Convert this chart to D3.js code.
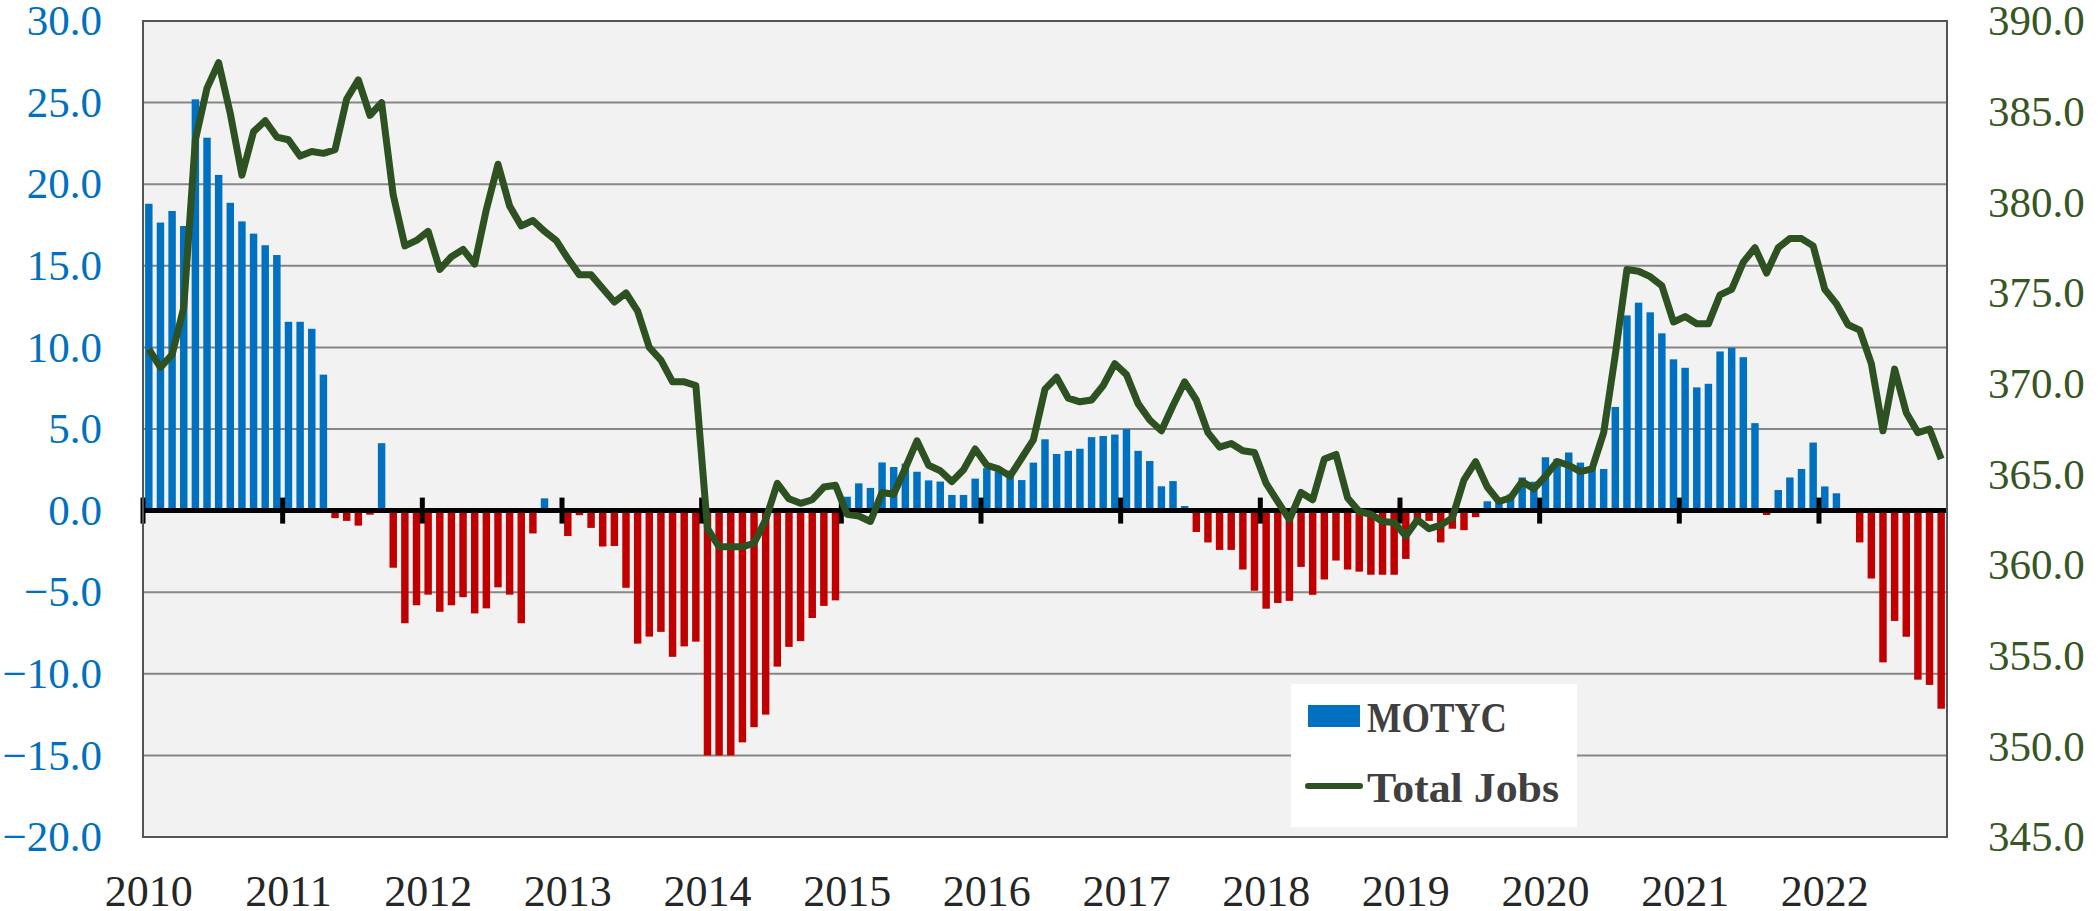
<!DOCTYPE html>
<html>
<head>
<meta charset="utf-8">
<script src="https://cdn.jsdelivr.net/npm/d3@7"></script>
<style>
  body { margin: 0; background: #fff; }
  svg { display: block; }
</style>
</head>
<body>
<svg id="chart"></svg>
<script>
// year labels on the category axis
const yearLabels = ["2010", "2011", "2012", "2013", "2014", "2015", "2016",
  "2017", "2018", "2019", "2020", "2021", "2022"];

// monthly categories, Jan 2010 .. Nov 2022
const months = d3.timeMonth.range(new Date(2010, 0, 1), new Date(2022, 11, 1));

// MOTYC, bars (left axis)
const motyc = [
  18.8, 17.65, 18.36, 17.44, 25.2, 22.85, 20.57, 18.86, 17.72, 16.97, 16.26, 15.66,
  11.57, 11.57, 11.14, 8.33, -0.46, -0.63, -0.92, -0.25, 4.13, -3.5, -6.9, -5.8,
  -5.15, -6.2, -5.8, -5.3, -6.3, -5.99, -4.7, -5.15, -6.9, -1.4, 0.75, 0,
  -1.56, -0.28, -1.06, -2.2, -2.17, -4.73, -8.15, -7.72, -7.43, -8.96, -8.32, -8.03,
  -15.0, -15.0, -15.0, -14.2, -13.27, -12.5, -9.56, -8.35, -8.0, -6.58, -5.84, -5.5,
  0.85, 1.67, 1.39, 2.95, 2.67, 2.88, 2.38, 1.85, 1.78, 0.96, 0.96, 1.96,
  2.6, 2.39, 2.45, 1.87, 2.94, 4.37, 3.47, 3.66, 3.79, 4.5, 4.57, 4.66,
  4.99, 3.66, 3.04, 1.49, 1.81, 0.28, -1.31, -1.95, -2.41, -2.41, -3.61, -4.91,
  -6.01, -5.66, -5.53, -3.45, -5.16, -4.22, -3.06, -3.61, -3.74, -3.93, -3.93, -3.93,
  -2.96, -0.7, -0.63, -1.95, -1.11, -1.2, -0.4, 0.57, 0.6, 0.99, 2.03, 1.77,
  3.27, 3.17, 3.56, 2.94, 2.62, 2.55, 6.35, 11.96, 12.74, 12.15, 10.86, 9.27,
  8.75, 7.55, 7.77, 9.75, 9.98, 9.4, 5.36, -0.27, 1.26, 2.03, 2.55, 4.17,
  1.48, 1.06, 0, -1.95, -4.16, -9.3, -6.76, -7.73, -10.36, -10.68, -12.14
];

// Total Jobs, line (right axis)
const totalJobs = [
  371.9, 370.9, 371.6, 374.2, 383.45, 386.3, 387.7, 384.9, 381.5, 383.9, 384.5, 383.6,
  383.45, 382.55, 382.8, 382.7, 382.9, 385.7, 386.75, 384.8, 385.5, 380.4, 377.6, 377.9,
  378.4, 376.3, 377.0, 377.4, 376.6, 379.6, 382.1, 379.8, 378.7, 379.0, 378.4, 377.9,
  376.9, 376.0, 376.0, 375.25, 374.5, 375.0, 374.0, 372.0, 371.3, 370.1, 370.1, 369.9,
  362.0, 361.0, 361.0, 361.0, 361.2, 362.5, 364.5, 363.65, 363.4, 363.6, 364.3, 364.4,
  362.8, 362.7, 362.4, 364.0, 363.9, 365.35, 366.85, 365.5, 365.2, 364.6, 365.25, 366.4,
  365.5, 365.3, 364.9, 365.9, 366.9, 369.7, 370.35, 369.2, 369.0, 369.1, 369.9, 371.1,
  370.5, 368.9, 368.0, 367.4, 368.8, 370.1, 369.1, 367.3, 366.5, 366.7, 366.3, 366.2,
  364.5, 363.5, 362.5, 364.0, 363.6, 365.85, 366.1, 363.7, 362.95, 362.8, 362.4, 362.35,
  361.6, 362.5, 362.0, 362.2, 362.6, 364.7, 365.7, 364.3, 363.5, 363.7, 364.6, 364.2,
  364.9, 365.7, 365.5, 365.15, 365.3, 367.3, 371.6, 376.3, 376.2, 375.9, 375.4, 373.4,
  373.7, 373.3, 373.3, 374.9, 375.2, 376.7, 377.5, 376.1, 377.5, 378.0, 378.0, 377.6,
  375.2, 374.4, 373.25, 372.95, 371.1, 367.4, 370.8, 368.4, 367.3, 367.5, 365.85
];

const leftTicks = [-20, -15, -10, -5, 0, 5, 10, 15, 20, 25, 30];
const rightTicks = [345, 350, 355, 360, 365, 370, 375, 380, 385, 390];

const W = 2098, H = 911;
const plot = { left: 143, right: 1947, top: 21, bottom: 837 };
const serif = "'Liberation Serif', 'Times New Roman', serif";
const fmtKey = d3.timeFormat("%Y-%m");
const keys = months.map(fmtKey);

const data = keys.map((k, i) => ({ key: k, date: months[i], motyc: motyc[i], jobs: totalJobs[i] }));

const svg = d3.select("#chart").attr("width", W).attr("height", H);

svg.append("rect").attr("width", W).attr("height", H).attr("fill", "#fff");

const x = d3.scaleBand()
  .domain(keys)
  .range([plot.left, plot.right])
  .paddingInner(0.36)
  .paddingOuter(0.18);

const yL = d3.scaleLinear().domain([-20, 30]).range([plot.bottom, plot.top]);
const yR = d3.scaleLinear().domain([345, 390]).range([plot.bottom, plot.top]);

// plot background
svg.append("rect")
  .attr("x", plot.left).attr("y", plot.top)
  .attr("width", plot.right - plot.left).attr("height", plot.bottom - plot.top)
  .attr("fill", "#f2f2f2");

// gridlines
svg.append("g").selectAll("line")
  .data(leftTicks.filter(d => d !== -20 && d !== 30 && d !== 0))
  .join("line")
  .attr("x1", plot.left).attr("x2", plot.right)
  .attr("y1", d => yL(d)).attr("y2", d => yL(d))
  .attr("stroke", "#868686").attr("stroke-width", 2);

// bars
svg.append("g").selectAll("rect")
  .data(data)
  .join("rect")
  .attr("x", d => x(d.key))
  .attr("width", x.bandwidth())
  .attr("y", d => yL(Math.max(0, d.motyc)))
  .attr("height", d => Math.abs(yL(d.motyc) - yL(0)))
  .attr("fill", d => d.motyc >= 0 ? "#0070c0" : "#c00000");

// zero axis line with year ticks
svg.append("line")
  .attr("x1", plot.left).attr("x2", plot.right)
  .attr("y1", yL(0)).attr("y2", yL(0))
  .attr("stroke", "#000").attr("stroke-width", 5);

const yearStarts = data.filter(d => d.date.getMonth() === 0);
const edge = (x.step() - x.bandwidth()) / 2;
svg.append("g").selectAll("line")
  .data(yearStarts)
  .join("line")
  .attr("x1", d => x(d.key) - edge).attr("x2", d => x(d.key) - edge)
  .attr("y1", yL(0) - 13).attr("y2", yL(0) + 13)
  .attr("stroke", "#000").attr("stroke-width", 5);

// Total Jobs line
const line = d3.line()
  .x(d => x(d.key) + x.bandwidth() / 2)
  .y(d => yR(d.jobs));

svg.append("path")
  .datum(data)
  .attr("d", line)
  .attr("fill", "none")
  .attr("stroke", "#2d5120")
  .attr("stroke-width", 7)
  .attr("stroke-linejoin", "round");

// plot border
svg.append("rect")
  .attr("x", plot.left).attr("y", plot.top)
  .attr("width", plot.right - plot.left).attr("height", plot.bottom - plot.top)
  .attr("fill", "none").attr("stroke", "#555").attr("stroke-width", 2);

// left axis
const axL = svg.append("g")
  .attr("transform", `translate(${plot.left},0)`)
  .call(d3.axisLeft(yL).tickValues(leftTicks).tickFormat(d3.format(".1f")).tickSize(0).tickPadding(41));
axL.attr("font-family", serif).attr("font-size", 43);
axL.select(".domain").remove();
axL.selectAll("text").attr("fill", "#0070c0");

// right axis
const axR = svg.append("g")
  .attr("transform", `translate(${plot.right},0)`)
  .call(d3.axisRight(yR).tickValues(rightTicks).tickFormat(d3.format(".1f")).tickSize(0).tickPadding(41));
axR.attr("font-family", serif).attr("font-size", 43);
axR.select(".domain").remove();
axR.selectAll("text").attr("fill", "#375623");

// year axis
const yearOf = new Map(yearStarts.map((d, i) => [d.key, yearLabels[i]]));
const axB = svg.append("g")
  .attr("transform", `translate(0,${plot.bottom})`)
  .call(d3.axisBottom(x).tickValues(yearStarts.map(d => d.key))
    .tickFormat(k => yearOf.get(k)).tickSize(0).tickPadding(38));
axB.attr("font-family", serif).attr("font-size", 44);
axB.select(".domain").remove();
axB.selectAll("text").attr("fill", "#262626");

// legend
const lg = svg.append("g").attr("font-family", serif);
lg.append("rect")
  .attr("x", 1291).attr("y", 684).attr("width", 286).attr("height", 143)
  .attr("fill", "#fff");
lg.append("rect")
  .attr("x", 1308).attr("y", 705).attr("width", 52).attr("height", 22)
  .attr("fill", "#0070c0");
lg.append("line")
  .attr("x1", 1308).attr("x2", 1360).attr("y1", 786).attr("y2", 786)
  .attr("stroke", "#2d5120").attr("stroke-width", 6).attr("stroke-linecap", "round");
lg.append("text")
  .attr("x", 1367).attr("y", 732)
  .attr("textLength", 140).attr("lengthAdjust", "spacingAndGlyphs")
  .attr("fill", "#404040").style("font-size", "43px").style("font-weight", "bold")
  .text("MOTYC");
lg.append("text")
  .attr("x", 1367).attr("y", 802)
  .attr("textLength", 192).attr("lengthAdjust", "spacingAndGlyphs")
  .attr("fill", "#404040").style("font-size", "43px").style("font-weight", "bold")
  .text("Total Jobs");
</script>
</body>
</html>
